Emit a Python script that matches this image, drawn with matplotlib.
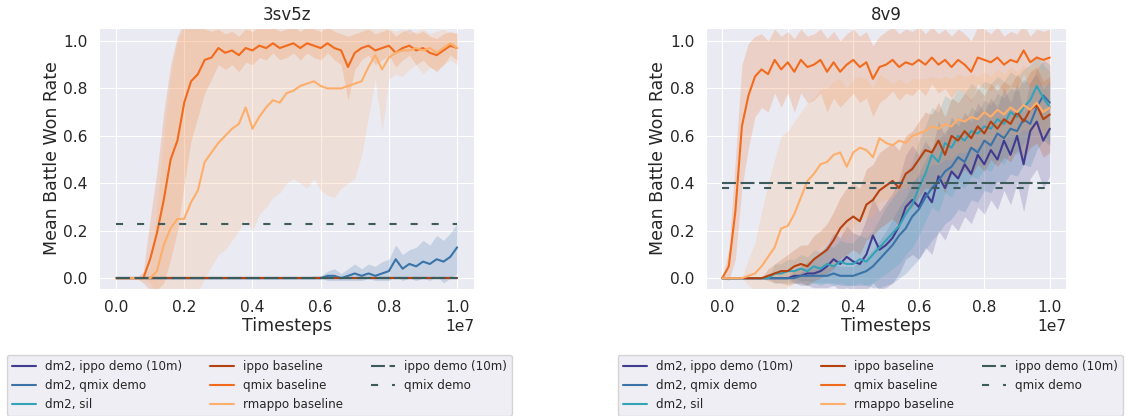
import numpy as np
import matplotlib
matplotlib.use('Agg')
import matplotlib.pyplot as plt
import seaborn as sns

# timesteps (x1e7), 51 samples
steps = np.linspace(0, 1e7, 51)

labels = ['dm2, ippo demo (10m)', 'dm2, qmix demo', 'dm2, sil',
          'ippo baseline', 'qmix baseline', 'rmappo baseline']
colors = ['#413c8f', '#3a73a8', '#34a3b8', '#b5410f', '#f26b1d', '#fdae6b']
demo_labels = ['ippo demo (10m)', 'qmix demo']

# ---------------- 3sv5z ----------------
zeros = [0.0] * 51

qmix_3s = [0, 0, 0, 0, 0.0, 0.08, 0.19, 0.33, 0.50, 0.58,
           0.74, 0.83, 0.86, 0.92, 0.93, 0.97, 0.95, 0.96, 0.94, 0.97,
           0.96, 0.98, 0.97, 0.99, 0.97, 0.98, 0.99, 0.97, 0.99, 0.98,
           0.97, 0.99, 0.97, 0.96, 0.89, 0.95, 0.97, 0.98, 0.96, 0.97,
           0.98, 0.95, 0.97, 0.98, 0.96, 0.97, 0.95, 0.94, 0.96, 0.98, 0.97]
qmix_3s_lo = [0, 0, 0, 0, -0.02, -0.05, -0.05, -0.02, 0.08, 0.2,
              0.4, 0.58, 0.68, 0.78, 0.84, 0.9, 0.88, 0.9, 0.87, 0.91,
              0.9, 0.93, 0.92, 0.95, 0.92, 0.93, 0.95, 0.92, 0.95, 0.93,
              0.92, 0.95, 0.92, 0.9, 0.75, 0.88, 0.92, 0.94, 0.9, 0.92,
              0.94, 0.89, 0.92, 0.94, 0.9, 0.92, 0.89, 0.87, 0.9, 0.94, 0.92]
qmix_3s_hi = [0, 0, 0, 0, 0.03, 0.25, 0.45, 0.7, 0.9, 1.02,
              1.08, 1.08, 1.06, 1.05, 1.04, 1.05, 1.03, 1.04, 1.02, 1.05,
              1.04, 1.06, 1.05, 1.06, 1.04, 1.05, 1.06, 1.04, 1.06, 1.05,
              1.04, 1.06, 1.04, 1.03, 1.02, 1.03, 1.04, 1.05, 1.03, 1.04,
              1.05, 1.02, 1.04, 1.05, 1.03, 1.04, 1.02, 1.01, 1.03, 1.04, 1.03]

rmappo_3s = [0, 0, 0, 0, 0, 0.0, 0.03, 0.14, 0.21, 0.25,
             0.25, 0.32, 0.37, 0.49, 0.53, 0.57, 0.60, 0.63, 0.65, 0.72,
             0.63, 0.68, 0.72, 0.75, 0.74, 0.78, 0.79, 0.81, 0.82, 0.83,
             0.81, 0.80, 0.80, 0.80, 0.81, 0.82, 0.83, 0.89, 0.94, 0.88,
             0.93, 0.95, 0.96, 0.96, 0.97, 0.96, 0.97, 0.95, 0.97, 0.99, 0.97]
rmappo_3s_lo = [0, 0, 0, 0, 0, -0.02, -0.06, -0.08, -0.08, -0.08,
                -0.08, -0.08, -0.06, 0.0, 0.05, 0.10, 0.12, 0.16, 0.20, 0.25,
                0.20, 0.27, 0.30, 0.34, 0.36, 0.40, 0.42, 0.40, 0.38, 0.42,
                0.37, 0.35, 0.34, 0.38, 0.40, 0.42, 0.52, 0.68, 0.84, 0.62,
                0.84, 0.86, 0.85, 0.88, 0.90, 0.86, 0.89, 0.88, 0.90, 0.92, 0.90]
rmappo_3s_hi = [0, 0, 0, 0, 0, 0.05, 0.3, 0.6, 0.85, 1.0,
                1.06, 1.08, 1.07, 1.08, 1.06, 1.07, 1.08, 1.06, 1.07, 1.08,
                1.06, 1.07, 1.08, 1.06, 1.07, 1.08, 1.06, 1.07, 1.08, 1.06,
                1.07, 1.08, 1.06, 1.07, 1.08, 1.06, 1.07, 1.08, 1.06, 1.07,
                1.05, 1.04, 1.05, 1.03, 1.04, 1.05, 1.03, 1.04, 1.05, 1.03, 1.04]

dm2_qmix_3s = [0] * 29 + [0.0, 0.0, 0.01, 0.01, 0.0, 0.01, 0.02, 0.01, 0.02, 0.01,
                          0.02, 0.03, 0.08, 0.04, 0.06, 0.05, 0.07, 0.06, 0.08, 0.07,
                          0.09, 0.13]
dm2_qmix_3s_lo = [0] * 29 + [0, 0, -0.01, -0.01, -0.01, -0.01, -0.01, -0.01, 0.0, -0.01,
                             -0.01, -0.01, 0.01, -0.01, 0.0, -0.01, 0.0, -0.01, 0.01, -0.02,
                             0.0, 0.02]
dm2_qmix_3s_hi = [0] * 29 + [0.01, 0.01, 0.03, 0.04, 0.02, 0.04, 0.06, 0.04, 0.06, 0.05,
                             0.07, 0.08, 0.14, 0.1, 0.12, 0.13, 0.16, 0.14, 0.18, 0.16,
                             0.19, 0.23]

demo_3s = [0.0, 0.23]

# ---------------- 8v9 ----------------
qmix_8 = [0, 0.05, 0.28, 0.64, 0.77, 0.85, 0.88, 0.86, 0.92, 0.88,
          0.91, 0.87, 0.92, 0.89, 0.90, 0.92, 0.87, 0.91, 0.87, 0.90,
          0.92, 0.89, 0.91, 0.84, 0.89, 0.90, 0.92, 0.89, 0.91, 0.90,
          0.92, 0.90, 0.93, 0.90, 0.92, 0.89, 0.92, 0.90, 0.87, 0.93,
          0.92, 0.91, 0.93, 0.90, 0.92, 0.91, 0.96, 0.91, 0.93, 0.92, 0.93]
qmix_8_lo = [0, -0.01, 0.08, 0.38, 0.55, 0.68, 0.72, 0.70, 0.78, 0.72,
             0.78, 0.70, 0.78, 0.74, 0.75, 0.78, 0.70, 0.76, 0.72, 0.75,
             0.78, 0.74, 0.76, 0.68, 0.74, 0.76, 0.79, 0.75, 0.78, 0.77,
             0.80, 0.77, 0.82, 0.78, 0.80, 0.76, 0.80, 0.78, 0.74, 0.82,
             0.80, 0.79, 0.82, 0.78, 0.81, 0.80, 0.86, 0.80, 0.82, 0.81, 0.82]
qmix_8_hi = [0, 0.12, 0.5, 0.9, 0.99, 1.02, 1.03, 1.0, 1.05, 1.02,
             1.04, 1.01, 1.05, 1.02, 1.03, 1.05, 1.01, 1.04, 1.0, 1.03,
             1.05, 1.02, 1.04, 0.98, 1.02, 1.04, 1.06, 1.03, 1.05, 1.04,
             1.06, 1.03, 1.06, 1.03, 1.05, 1.02, 1.05, 1.03, 1.0, 1.06,
             1.05, 1.03, 1.06, 1.02, 1.04, 1.03, 1.07, 1.02, 1.05, 1.04, 1.05]

rmappo_8 = [0, 0, 0, 0, 0.01, 0.02, 0.05, 0.09, 0.13, 0.21,
            0.22, 0.27, 0.34, 0.41, 0.44, 0.48, 0.49, 0.52, 0.53, 0.47,
            0.53, 0.55, 0.54, 0.51, 0.59, 0.57, 0.56, 0.58, 0.57, 0.60,
            0.61, 0.62, 0.64, 0.63, 0.65, 0.64, 0.67, 0.66, 0.68, 0.67,
            0.70, 0.68, 0.71, 0.69, 0.72, 0.70, 0.73, 0.71, 0.74, 0.70, 0.72]
rmappo_8_lo = [0, 0, 0, 0, -0.03, -0.05, -0.06, -0.06, -0.06, -0.05,
               -0.04, -0.02, 0.02, 0.06, 0.1, 0.13, 0.15, 0.18, 0.2, 0.16,
               0.22, 0.25, 0.26, 0.25, 0.32, 0.33, 0.34, 0.37, 0.38, 0.41,
               0.43, 0.45, 0.48, 0.48, 0.5, 0.5, 0.53, 0.53, 0.55, 0.55,
               0.58, 0.57, 0.6, 0.58, 0.61, 0.6, 0.63, 0.61, 0.64, 0.6, 0.62]
rmappo_8_hi = [0, 0, 0, 0, 0.08, 0.15, 0.28, 0.4, 0.5, 0.6,
               0.62, 0.66, 0.7, 0.74, 0.76, 0.8, 0.8, 0.83, 0.84, 0.8,
               0.84, 0.85, 0.84, 0.8, 0.86, 0.84, 0.82, 0.84, 0.82, 0.84,
               0.84, 0.84, 0.85, 0.84, 0.85, 0.84, 0.86, 0.85, 0.86, 0.85,
               0.87, 0.85, 0.88, 0.86, 0.89, 0.87, 0.9, 0.88, 0.91, 0.87, 0.89]

ippo_8 = [0, 0, 0, 0, 0, 0, 0, 0.01, 0.02, 0.03,
          0.03, 0.05, 0.06, 0.05, 0.08, 0.10, 0.12, 0.16, 0.21, 0.24,
          0.26, 0.24, 0.31, 0.33, 0.37, 0.39, 0.41, 0.38, 0.44, 0.46,
          0.50, 0.54, 0.53, 0.58, 0.52, 0.60, 0.58, 0.62, 0.59, 0.64,
          0.61, 0.66, 0.63, 0.67, 0.65, 0.70, 0.66, 0.71, 0.73, 0.67, 0.69]
ippo_8_lo = [0, 0, 0, 0, 0, 0, 0, -0.01, -0.02, -0.02,
             -0.03, -0.02, -0.02, -0.03, -0.01, 0.0, 0.02, 0.04, 0.08, 0.1,
             0.12, 0.1, 0.16, 0.18, 0.21, 0.23, 0.25, 0.22, 0.28, 0.3,
             0.34, 0.38, 0.37, 0.42, 0.36, 0.44, 0.42, 0.46, 0.43, 0.48,
             0.45, 0.5, 0.47, 0.51, 0.49, 0.54, 0.5, 0.55, 0.57, 0.51, 0.53]
ippo_8_hi = [0, 0, 0, 0, 0, 0, 0, 0.04, 0.06, 0.08,
             0.1, 0.12, 0.14, 0.14, 0.18, 0.2, 0.23, 0.28, 0.34, 0.38,
             0.4, 0.38, 0.46, 0.48, 0.53, 0.55, 0.57, 0.54, 0.6, 0.62,
             0.66, 0.7, 0.69, 0.74, 0.68, 0.76, 0.74, 0.78, 0.75, 0.8,
             0.77, 0.82, 0.79, 0.83, 0.81, 0.86, 0.82, 0.87, 0.89, 0.83, 0.85]

sil_8 = [0, 0, 0, 0, 0, 0, 0, 0, 0.02, 0.02,
         0.03, 0.03, 0.04, 0.03, 0.05, 0.04, 0.06, 0.05, 0.07, 0.06,
         0.06, 0.08, 0.07, 0.10, 0.13, 0.16, 0.19, 0.22, 0.27, 0.31,
         0.38, 0.44, 0.52, 0.49, 0.57, 0.55, 0.60, 0.58, 0.62, 0.61,
         0.64, 0.63, 0.67, 0.65, 0.70, 0.68, 0.72, 0.75, 0.81, 0.76, 0.72]
sil_8_lo = [0, 0, 0, 0, 0, 0, 0, 0, -0.02, -0.02,
            -0.02, -0.02, -0.02, -0.03, -0.02, -0.03, -0.02, -0.03, -0.02, -0.03,
            -0.03, -0.02, -0.03, -0.02, 0.0, 0.02, 0.04, 0.06, 0.1, 0.13,
            0.18, 0.24, 0.3, 0.28, 0.36, 0.34, 0.4, 0.38, 0.43, 0.42,
            0.46, 0.45, 0.5, 0.48, 0.54, 0.52, 0.57, 0.6, 0.66, 0.61, 0.57]
sil_8_hi = [0, 0, 0, 0, 0, 0, 0, 0, 0.06, 0.06,
            0.08, 0.08, 0.1, 0.09, 0.12, 0.11, 0.14, 0.13, 0.16, 0.15,
            0.15, 0.18, 0.17, 0.2, 0.25, 0.3, 0.34, 0.38, 0.44, 0.49,
            0.58, 0.64, 0.72, 0.7, 0.77, 0.75, 0.8, 0.78, 0.82, 0.8,
            0.83, 0.82, 0.85, 0.83, 0.87, 0.85, 0.88, 0.9, 0.94, 0.9, 0.87]

dm2_qmix_8 = [0] * 12 + [0.01, 0.01, 0.01, 0.01, 0.01, 0.02, 0.01, 0.01, 0.01, 0.02,
                         0.03, 0.05, 0.08, 0.11, 0.14, 0.18, 0.21, 0.26, 0.29, 0.34,
                         0.38, 0.41, 0.45, 0.47, 0.51, 0.49, 0.55, 0.53, 0.58, 0.56,
                         0.61, 0.59, 0.63, 0.62, 0.67, 0.65, 0.72, 0.77, 0.74]
dm2_qmix_8_lo = [0] * 12 + [-0.01, -0.01, -0.02, -0.02, -0.02, -0.02, -0.03, -0.03, -0.03, -0.03,
                            -0.03, -0.04, -0.04, -0.03, -0.02, 0.0, 0.02, 0.05, 0.08, 0.12,
                            0.16, 0.19, 0.23, 0.25, 0.29, 0.28, 0.33, 0.32, 0.37, 0.36,
                            0.41, 0.4, 0.44, 0.43, 0.48, 0.47, 0.54, 0.58, 0.56]
dm2_qmix_8_hi = [0] * 12 + [0.03, 0.03, 0.04, 0.04, 0.04, 0.06, 0.05, 0.05, 0.05, 0.07,
                            0.09, 0.12, 0.16, 0.2, 0.25, 0.3, 0.34, 0.4, 0.44, 0.5,
                            0.54, 0.58, 0.62, 0.64, 0.68, 0.66, 0.72, 0.7, 0.75, 0.73,
                            0.78, 0.76, 0.8, 0.79, 0.84, 0.82, 0.88, 0.92, 0.9]

dm2_ippo_8 = [0] * 11 + [0.01, 0.01, 0.02, 0.02, 0.03, 0.05, 0.08, 0.06, 0.09, 0.07,
                         0.06, 0.10, 0.18, 0.12, 0.14, 0.17, 0.22, 0.30, 0.33, 0.30,
                         0.36, 0.32, 0.43, 0.38, 0.45, 0.42, 0.48, 0.44, 0.52, 0.48,
                         0.54, 0.50, 0.58, 0.52, 0.60, 0.48, 0.62, 0.66, 0.58, 0.63]
dm2_ippo_8_lo = [0] * 11 + [-0.02, -0.03, -0.03, -0.04, -0.04, -0.04, -0.03, -0.05, -0.04, -0.05,
                            -0.06, -0.05, -0.02, -0.05, -0.04, -0.02, 0.02, 0.08, 0.1, 0.08,
                            0.13, 0.1, 0.2, 0.16, 0.23, 0.2, 0.26, 0.23, 0.3, 0.27,
                            0.33, 0.29, 0.37, 0.31, 0.4, 0.28, 0.42, 0.46, 0.38, 0.43]
dm2_ippo_8_hi = [0] * 11 + [0.04, 0.05, 0.07, 0.08, 0.1, 0.14, 0.19, 0.17, 0.22, 0.19,
                            0.18, 0.25, 0.34, 0.28, 0.32, 0.36, 0.42, 0.52, 0.56, 0.52,
                            0.58, 0.54, 0.66, 0.6, 0.68, 0.64, 0.7, 0.66, 0.74, 0.7,
                            0.76, 0.72, 0.8, 0.74, 0.82, 0.7, 0.83, 0.86, 0.8, 0.83]

demo_8 = [0.40, 0.38]

sns.set_style('darkgrid')
plt.rcParams['font.family'] = ['DejaVu Sans']


def plot_panel(ax, title, curves, demos):
    for (mean, lo, hi), label, color in zip(curves, labels, colors):
        ax.fill_between(steps, lo, hi, color=color, alpha=0.2, linewidth=0)
        ax.plot(steps, mean, color=color, lw=1.5, label=label)
    styles = [(0, (6.7, 2.2)), (0, (3.4, 6.7))]
    for val, label, ls in zip(demos, demo_labels, styles):
        ax.plot(steps, [val] * len(steps), color='#3e5b5b', lw=1.5,
                linestyle=ls, label=label)
    ax.set_title(title, fontsize=12)
    ax.set_xlabel('Timesteps', fontsize=12.5, labelpad=1)
    ax.set_ylabel('Mean Battle Won Rate', fontsize=12.5, labelpad=2)
    ax.tick_params(labelsize=11.2, length=0, pad=8)
    ax.xaxis.get_offset_text().set_fontsize(11.2)
    ax.set_ylim(-0.046, 1.055)
    ax.set_xlim(-0.05e7, 1.05e7)
    ax.set_xticks([0, 0.2e7, 0.4e7, 0.6e7, 0.8e7, 1.0e7])


fig = plt.figure(figsize=(11.44, 4.16), dpi=100)
ax1 = fig.add_axes([0.0865, 0.305, 0.328, 0.628])
ax2 = fig.add_axes([0.617, 0.305, 0.315, 0.628])

plot_panel(ax1, '3sv5z',
           [(zeros, zeros, zeros),
            (dm2_qmix_3s, dm2_qmix_3s_lo, dm2_qmix_3s_hi),
            (zeros, zeros, zeros),
            (zeros, zeros, zeros),
            (qmix_3s, qmix_3s_lo, qmix_3s_hi),
            (rmappo_3s, rmappo_3s_lo, rmappo_3s_hi)],
           demo_3s)
plot_panel(ax2, '8v9',
           [(dm2_ippo_8, dm2_ippo_8_lo, dm2_ippo_8_hi),
            (dm2_qmix_8, dm2_qmix_8_lo, dm2_qmix_8_hi),
            (sil_8, sil_8_lo, sil_8_hi),
            (ippo_8, ippo_8_lo, ippo_8_hi),
            (qmix_8, qmix_8_lo, qmix_8_hi),
            (rmappo_8, rmappo_8_lo, rmappo_8_hi)],
           demo_8)

for ax, x0 in [(ax1, 7 / 1144), (ax2, 618 / 1144)]:
    ax.legend(loc='upper left', bbox_to_anchor=(x0, 1 - 355 / 416),
              bbox_transform=fig.transFigure, ncol=3, fontsize=8.6,
              columnspacing=2.3, borderaxespad=0)

fig.savefig('out.png', dpi=100)
